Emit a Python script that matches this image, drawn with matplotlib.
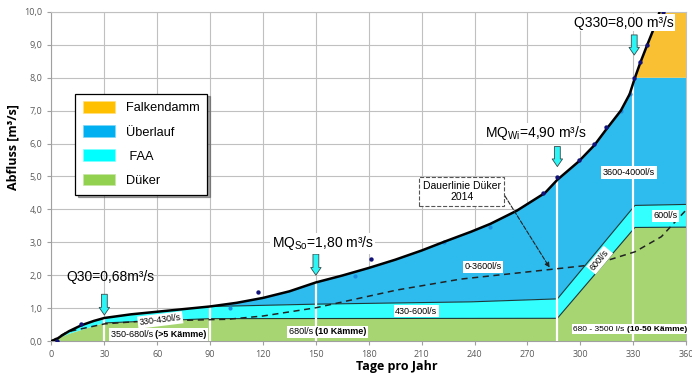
import numpy as np
import matplotlib
matplotlib.use("Agg")
import matplotlib.pyplot as plt
from matplotlib.patches import Patch
from matplotlib.ticker import FuncFormatter

plt.rcParams['font.family'] = ['Liberation Sans', 'DejaVu Sans']
plt.rcParams['mathtext.fontset'] = 'custom'
plt.rcParams['mathtext.rm'] = 'Liberation Sans'

# Dauerlinie (Abfluss an Tagen pro Jahr)
tage_kurve = [0, 3, 6, 10, 17, 24, 30, 45, 60, 75, 90, 105, 120, 135, 150, 165, 180, 195, 210,
              223, 238, 249, 264, 280, 287, 299, 308, 315, 323, 328, 331, 334, 338, 341, 345]
abfluss_kurve = [0, 0.06, 0.17, 0.30, 0.48, 0.61, 0.70, 0.81, 0.89, 0.97, 1.05, 1.16, 1.31, 1.51,
                 1.78, 1.99, 2.22, 2.47, 2.75, 3.02, 3.32, 3.56, 3.96, 4.50, 4.90, 5.45, 5.95,
                 6.45, 7.0, 7.5, 8.0, 8.45, 9.0, 9.4, 10.0]

# Oberkante FAA und Düker
faa_tage = [90, 100, 150, 238, 287, 331, 360]
faa_oben = [1.05, 1.06, 1.12, 1.19, 1.28, 4.12, 4.15]
duker_tage = [0, 10, 30, 90, 287, 331, 360]
duker_oben = [0, 0.22, 0.55, 0.68, 0.69, 3.45, 3.46]
ueberlauf_max = 8.0
falkendamm_max = 10.0

# Dauerlinie Düker 2014
tage_2014 = [0, 9, 30, 48, 90, 100, 120, 150, 196, 232, 284, 306, 316, 331, 346, 360]
abfluss_2014 = [0, 0.28, 0.52, 0.59, 0.65, 0.66, 0.76, 1.01, 1.55, 1.88, 2.18, 2.31, 2.46, 2.71, 3.17, 3.98]

# Messpunkte
punkte_dunkel_x = [3, 17, 117, 181, 279, 287, 299, 308, 314.5, 330.6, 334, 338, 346.7]
punkte_dunkel_y = [0.0, 0.51, 1.50, 2.49, 4.50, 4.98, 5.50, 5.99, 6.50, 8.0, 8.49, 9.0, 10.0]
punkte_hell_x = [101.5, 172, 222.5, 248.5, 323, 328]
punkte_hell_y = [1.01, 1.99, 3.0, 3.47, 6.99, 7.5]

# Kennwerte
kenn_tage = [30, 90, 150, 287, 330]
kenn_abfluss = [0.70, 1.05, 1.78, 4.90, 8.0]

c_orange = '#F9C033'
c_blau = '#2EBBEE'
c_cyan = '#33FFFF'
c_gruen = '#A6D572'

fig = plt.figure(figsize=(6.92, 3.74), dpi=100)
ax = fig.add_axes([0.0744, 0.0882, 0.917, 0.88])

tk = np.array(tage_kurve)
ak = np.array(abfluss_kurve)
ft = np.array(faa_tage)
fo = np.array(faa_oben)
dt = np.array(duker_tage)
do = np.array(duker_oben)

# Düker
ax.fill(np.concatenate([dt, [360]]), np.concatenate([do, [0]]), color=c_gruen, lw=0, zorder=1)
# FAA
m = tk <= 90
faa_x = np.concatenate([tk[m], ft[1:], dt[::-1]])
faa_y = np.concatenate([ak[m], fo[1:], do[::-1]])
ax.fill(faa_x, faa_y, color=c_cyan, lw=0, zorder=1)
# Überlauf
m2 = (tk >= 90) & (ak <= ueberlauf_max)
bl_x = np.concatenate([tk[m2], [360], ft[::-1]])
bl_y = np.concatenate([ak[m2], [ueberlauf_max], fo[::-1]])
ax.fill(bl_x, bl_y, color=c_blau, lw=0, zorder=1)
# Falkendamm
m3 = ak >= ueberlauf_max
or_x = np.concatenate([tk[m3], [360, 360]])
or_y = np.concatenate([ak[m3], [falkendamm_max, ueberlauf_max]])
ax.fill(or_x, or_y, color=c_orange, lw=0, zorder=1)

ax.plot(ft, fo, color='#1a3a3a', lw=0.8, zorder=2)
ax.plot(dt[2:], do[2:], color='#1a3a3a', lw=0.8, zorder=2)

ax.vlines(kenn_tage, 0, kenn_abfluss, color='white', lw=1.6, zorder=3)

ax.plot(tage_2014, abfluss_2014, color='#222222', lw=1.1, ls=(0, (4, 3)), zorder=4)
ax.scatter(punkte_hell_x, punkte_hell_y, s=9, color='#1E8FE0', zorder=4, lw=0)
ax.plot(tage_kurve, abfluss_kurve, color='black', lw=1.8, zorder=5, solid_joinstyle='round')
ax.scatter(punkte_dunkel_x, punkte_dunkel_y, s=10, color='#12127A', zorder=6, lw=0)

# Pfeile
pfeile = [(30, 1.42, 0.79), (150, 2.64, 2.0), (287, 5.91, 5.30), (330.6, 9.30, 8.69)]
for x, y0, y1 in pfeile:
    ax.annotate('', xy=(x, y1), xytext=(x, y0),
                arrowprops=dict(arrowstyle='simple,head_width=0.75,head_length=0.55,tail_width=0.42',
                                fc='#2EF5F5', ec='#3a4a4a', lw=0.6, shrinkA=0, shrinkB=0), zorder=7)

ax.text(33.3, 1.95, 'Q30=0,68m³/s', fontsize=10, ha='center', va='center', zorder=8)
ax.text(154, 2.97, r'MQ$_{\mathrm{So}}$=1,80 m³/s', fontsize=10, ha='center', va='center', zorder=8,
        bbox=dict(fc='white', ec='none', pad=1))
ax.text(274.5, 6.31, r'MQ$_{\mathrm{Wi}}$=4,90 m³/s', fontsize=10, ha='center', va='center', zorder=8,
        bbox=dict(fc='white', ec='none', pad=1))
ax.text(324.8, 9.67, 'Q330=8,00 m³/s', fontsize=10, ha='center', va='center', zorder=8,
        bbox=dict(fc='white', ec='none', pad=1))

box = dict(fc='white', ec='none', pad=1.2)


def label(x, y, s, rot=0, ha='center', fs=6.5):
    return ax.text(x, y, s, fontsize=fs, ha=ha, va='center', rotation=rot, zorder=8,
                   bbox=box, rotation_mode='anchor')


def label2(x, y, s1, s2, fs=6.5):
    t1 = ax.text(x, y, s1, fontsize=fs, ha='left', va='center', zorder=8, bbox=box)
    ax.annotate(s2, xy=(1, 0), xycoords=t1, fontsize=fs, fontweight='bold', ha='left',
                va='bottom', zorder=8, bbox=box, annotation_clip=False)


label(61.7, 0.64, '330-430l/s', rot=7)
label2(33.5, 0.20, '350-680l/s ', '(>5 Kämme)')
label2(134.5, 0.28, '680l/s ', '(10 Kämme)')
label(207, 0.91, '430-600l/s')
label(244.7, 2.26, '0-3600l/s')
label(327.6, 5.12, '3600-4000l/s')
label(311, 2.46, '600l/s', rot=50)
label(348.4, 3.80, '600l/s')
label2(296, 0.36, '680 - 3500 l/s ', '(10-50 Kämme)', fs=6.0)

ax.annotate('Dauerlinie Düker\n2014', xy=(282.6, 2.23), xytext=(232.8, 4.54),
            fontsize=7.5, ha='center', va='center', zorder=8,
            bbox=dict(boxstyle='square,pad=0.35', fc='white', ec='#555555', ls='--', lw=0.8),
            arrowprops=dict(arrowstyle='-|>', ls='--', color='#222222', lw=0.8,
                            relpos=(1, 0.6), shrinkA=0, shrinkB=0, mutation_scale=7))

# Achsen
ax.set_xlim(0, 360)
ax.set_ylim(0, 10)
ax.set_xticks(np.arange(0, 361, 30))
ax.set_yticks(np.arange(0, 10.1, 1))
ax.yaxis.set_major_formatter(FuncFormatter(lambda v, p: f'{v:.1f}'.replace('.', ',')))
ax.grid(True, color='#C0C0C0', lw=0.8, zorder=0)
ax.set_axisbelow(True)
for s in ['top', 'right']:
    ax.spines[s].set_color('#C0C0C0')
    ax.spines[s].set_linewidth(0.8)
for s in ['left', 'bottom']:
    ax.spines[s].set_color('#A0A0A0')
ax.tick_params(labelsize=6.5, colors='#A0A0A0', labelcolor='#595959', length=3, width=0.8)
for lab in ax.get_xticklabels() + ax.get_yticklabels():
    lab.set_family('Open Sans')

fig.text(0.019, 0.606, 'Abfluss [m³/s]', rotation=90, fontsize=9, fontweight='bold',
         family='Open Sans', ha='center', va='center')
fig.text(0.573, 0.02, 'Tage pro Jahr', fontsize=9, fontweight='bold',
         family='Open Sans', ha='center', va='center')

handles = [Patch(fc='#FFC000', ec='#FFE080', lw=0.5), Patch(fc='#00B0F0', ec='#80D8F8', lw=0.5),
           Patch(fc='#00FFFF', ec='#80FFFF', lw=0.5), Patch(fc='#92D050', ec='#C8E8A8', lw=0.5)]
leg = ax.legend(handles, ['Falkendamm', 'Überlauf', ' FAA', 'Düker'], loc='upper left',
                bbox_to_anchor=(0.037, 0.752), fontsize=9.2, frameon=True, fancybox=False,
                shadow=True, edgecolor='black', framealpha=1, handlelength=2.5,
                handleheight=1.05, labelspacing=0.85, borderpad=0.6, handletextpad=0.9,
                borderaxespad=0)
leg.get_frame().set_linewidth(0.9)
leg.set_zorder(10)

fig.savefig('out.png', dpi=100)
